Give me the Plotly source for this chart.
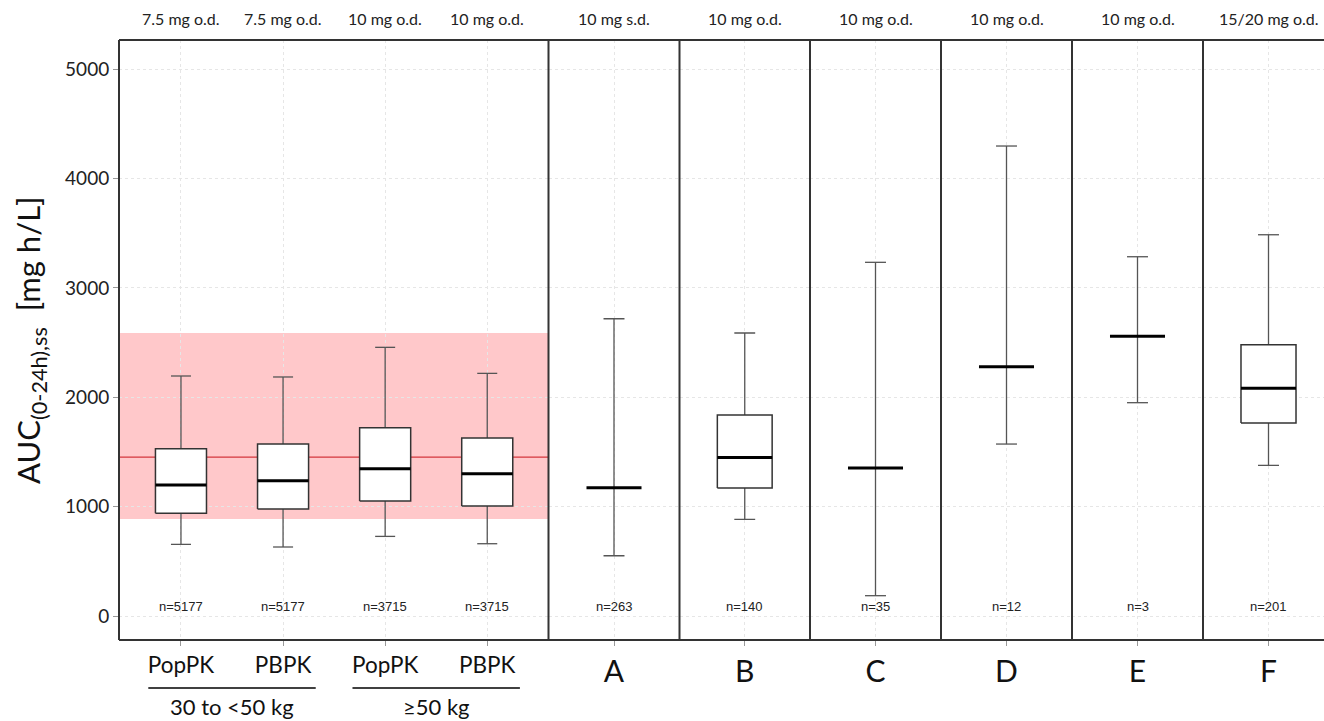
import plotly.graph_objects as go

# ---------------- data ----------------
left_cats = ["PopPK", "PBPK", "PopPK", "PBPK"]
left_doses = ["7.5 mg o.d.", "7.5 mg o.d.", "10 mg o.d.", "10 mg o.d."]
left_n = ["n=5177", "n=5177", "n=3715", "n=3715"]
left_low = [656, 632, 729, 662]
left_q1 = [940, 979, 1052, 1006]
left_med = [1198, 1238, 1348, 1302]
left_q3 = [1530, 1573, 1722, 1628]
left_high = [2195, 2186, 2457, 2219]

weight_groups = ["30 to <50 kg", "\u226550 kg"]

study_cats = ["A", "B", "C", "D", "E", "F"]
study_doses = ["10 mg s.d.", "10 mg o.d.", "10 mg o.d.", "10 mg o.d.", "10 mg o.d.", "15/20 mg o.d."]
study_n = ["n=263", "n=140", "n=35", "n=12", "n=3", "n=201"]
study_low = [552, 885, 187, 1573, 1951, 1378]
study_q1 = [None, 1171, None, None, None, 1765]
study_med = [1174, 1451, 1354, 2280, 2558, 2082]
study_q3 = [None, 1838, None, None, None, 2481]
study_high = [2718, 2588, 3234, 4297, 3285, 3486]

ref_low = 888
ref_high = 2588
ref_mid = 1454

y_ticks = [0, 1000, 2000, 3000, 4000, 5000]

# ---------------- layout geometry ----------------
W, H = 1324, 721
ML, MR, MT, MB = 119, 0, 40, 81
PW = W - ML - MR
PH = H - MT - MB
px_edges = [119, 548.5, 679.5, 810, 941, 1072, 1203, 1334]
dom = [min(1.0, (p - ML) / PW) for p in px_edges]


def py(p):
    """pixel row -> paper y"""
    return (MT + PH - p) / PH


fig = go.Figure()


def add_group(xa, c, low, q1, med, q3, high, box_hw, cap_hw):
    wcol = "#555555"
    fig.add_trace(go.Scatter(x=[c, c], y=[low, high], mode="lines", xaxis=xa, yaxis="y",
                             line=dict(color=wcol, width=1.3), hoverinfo="skip", showlegend=False))
    fig.add_trace(go.Scatter(x=[c - cap_hw, c + cap_hw, None, c - cap_hw, c + cap_hw],
                             y=[low, low, None, high, high], mode="lines", xaxis=xa, yaxis="y",
                             line=dict(color=wcol, width=1.3), hoverinfo="skip", showlegend=False))
    if q1 is not None:
        fig.add_trace(go.Scatter(x=[c - box_hw, c + box_hw, c + box_hw, c - box_hw, c - box_hw],
                                 y=[q1, q1, q3, q3, q1], mode="lines", fill="toself",
                                 fillcolor="white", xaxis=xa, yaxis="y",
                                 line=dict(color="#333333", width=1.5), hoverinfo="skip",
                                 showlegend=False))
    fig.add_trace(go.Scatter(x=[c - box_hw, c + box_hw], y=[med, med], mode="lines",
                             xaxis=xa, yaxis="y", line=dict(color="black", width=3),
                             hoverinfo="skip", showlegend=False))


for i in range(len(left_cats)):
    add_group("x", i, left_low[i], left_q1[i], left_med[i], left_q3[i], left_high[i], 0.25, 0.098)

for j in range(len(study_cats)):
    add_group("x%d" % (j + 2), 0, study_low[j], study_q1[j], study_med[j], study_q3[j],
              study_high[j], 0.21, 0.08)

# ---------------- axes ----------------
grid = dict(showgrid=True, gridcolor="#e6e6e6", griddash="dot", gridwidth=1, zeroline=False,
            showline=False, ticks="outside", ticklen=5, tickcolor="#999999", fixedrange=True)

font_main = "Lato, 'Open Sans', sans-serif"
layout_axes = {}
layout_axes["xaxis"] = dict(domain=[dom[0], dom[1]], range=[-0.607, 3.60], tickvals=list(range(4)),
                            ticktext=left_cats, anchor="y",
                            tickfont=dict(size=22.5, color="#111111", family=font_main), **grid)
for j in range(6):
    lo, hi = dom[j + 1], dom[j + 2]
    span = (px_edges[j + 2] - px_edges[j + 1])
    vis = (min(px_edges[j + 2], W) - px_edges[j + 1])
    rng = [-0.5, -0.5 + vis / span]
    layout_axes["xaxis%d" % (j + 2)] = dict(domain=[lo, hi], range=rng, tickvals=[0],
                                            ticktext=[study_cats[j]], anchor="y",
                                            tickfont=dict(size=30, color="#111111", family=font_main),
                                            **grid)

layout_axes["yaxis"] = dict(domain=[0, 1], range=[-218, 5266], tickvals=y_ticks, anchor="x",
                            tickfont=dict(size=19, color="#222222", family=font_main), **grid)

# ---------------- shapes ----------------
shapes = []
shapes.append(dict(type="rect", xref="x domain", yref="y", x0=0, x1=1, y0=ref_low, y1=ref_high,
                   fillcolor="#FFC8CA", line=dict(width=0), layer="below"))
shapes.append(dict(type="line", xref="x domain", yref="y", x0=0, x1=1, y0=ref_mid, y1=ref_mid,
                   line=dict(color="#D4363C", width=1.3), layer="below"))
border = dict(color="#333333", width=2)
shapes.append(dict(type="line", xref="paper", yref="paper", x0=0, x1=1, y0=1, y1=1, line=border))
shapes.append(dict(type="line", xref="paper", yref="paper", x0=0, x1=1, y0=0, y1=0, line=border))
for d in dom[:-1]:
    shapes.append(dict(type="line", xref="paper", yref="paper", x0=d, x1=d, y0=0, y1=1, line=border))
for g in range(len(weight_groups)):
    c = 2 * g + 0.5
    shapes.append(dict(type="line", xref="x", yref="paper", x0=c - 0.82, x1=c + 0.82,
                       y0=py(688), y1=py(688), line=dict(color="black", width=1.5)))

# ---------------- annotations ----------------
ann = []
small_font = "'Liberation Sans', Arial, sans-serif"
top_y = py(18)
n_y = py(606)


def txt(xref, x, y, text, size, family, color="#222222"):
    return dict(xref=xref, yref="paper", x=x, y=y, text=text, showarrow=False,
                xanchor="center", yanchor="middle",
                font=dict(size=size, color=color, family=family))


for i in range(len(left_cats)):
    ann.append(txt("x", i, top_y, left_doses[i], 16, font_main))
    ann.append(txt("x", i, n_y, left_n[i], 13, small_font))
for j in range(len(study_cats)):
    xr = "x%d" % (j + 2)
    ann.append(txt(xr, 0, top_y, study_doses[j], 16, font_main))
    ann.append(txt(xr, 0, n_y, study_n[j], 13, small_font))
for g in range(len(weight_groups)):
    ann.append(txt("x", 2 * g + 0.5, py(706), weight_groups[g], 22, font_main, "#111111"))

title = txt("paper", (30 - ML) / PW, 0.5, "AUC<sub>(0-24h),ss</sub>  [mg h/L]", 31, font_main,
            "#111111")
title["textangle"] = -90
ann.append(title)

fig.update_layout(width=W, height=H, margin=dict(l=ML, r=MR, t=MT, b=MB),
                  paper_bgcolor="white", plot_bgcolor="white", showlegend=False,
                  shapes=shapes, annotations=ann, **layout_axes)

fig.write_html("out.html", config={"displayModeBar": False})
